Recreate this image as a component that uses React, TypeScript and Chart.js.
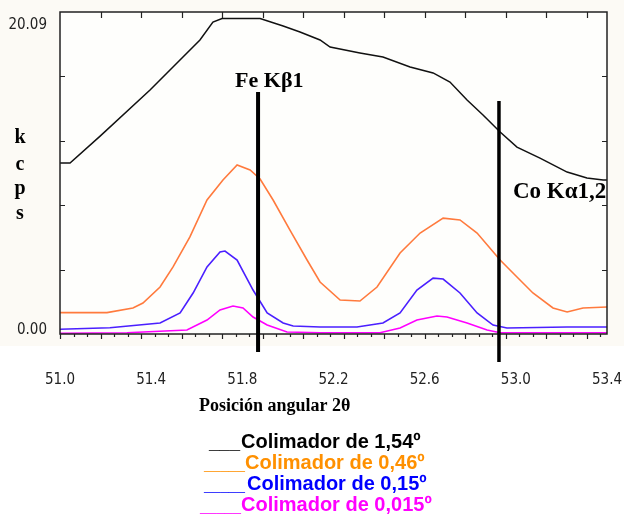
import { useEffect, useRef } from "react";
import { Chart, registerables } from "chart.js";

Chart.register(...registerables);

// ---------- data ----------
const xTickLabels = [51.0, 51.4, 51.8, 52.2, 52.6, 53.0, 53.4];

const angles154 = [51.0, 51.044, 51.176, 51.395, 51.614, 51.671, 51.711, 51.79, 51.878, 51.979, 52.053, 52.141, 52.185, 52.316, 52.417, 52.536, 52.637, 52.711, 52.786, 52.856, 52.931, 53.005, 53.106, 53.225, 53.312, 53.383, 53.4];
const kcps154 = [10.89, 10.89, 12.6, 15.53, 18.72, 19.86, 20.09, 20.09, 20.09, 19.61, 19.23, 18.72, 18.27, 17.89, 17.63, 17.0, 16.62, 16.04, 14.9, 13.94, 12.86, 11.9, 11.2, 10.31, 9.93, 9.8, 9.8];

const angles046 = [51.0, 51.206, 51.32, 51.364, 51.439, 51.496, 51.57, 51.645, 51.715, 51.777, 51.834, 51.878, 51.935, 52.009, 52.084, 52.141, 52.229, 52.316, 52.391, 52.492, 52.58, 52.681, 52.755, 52.83, 52.931, 53.005, 53.075, 53.163, 53.225, 53.295, 53.4];
const kcps046 = [1.36, 1.36, 1.66, 1.97, 2.99, 4.27, 6.18, 8.53, 9.8, 10.76, 10.44, 9.87, 8.53, 6.62, 4.71, 3.31, 2.16, 2.1, 2.99, 5.16, 6.43, 7.38, 7.26, 6.43, 4.71, 3.63, 2.61, 1.66, 1.4, 1.66, 1.72];

const angles015 = [51.0, 51.219, 51.439, 51.527, 51.584, 51.645, 51.702, 51.724, 51.777, 51.847, 51.909, 51.979, 52.023, 52.141, 52.303, 52.417, 52.492, 52.566, 52.637, 52.681, 52.755, 52.83, 52.9, 52.961, 53.225, 53.4];
const kcps015 = [0.3, 0.4, 0.7, 1.34, 2.61, 4.27, 5.22, 5.28, 4.71, 2.8, 1.34, 0.7, 0.51, 0.45, 0.45, 0.7, 1.34, 2.8, 3.56, 3.5, 2.61, 1.34, 0.57, 0.38, 0.45, 0.45];

const angles0015 = [51.0, 51.294, 51.557, 51.645, 51.702, 51.759, 51.803, 51.847, 51.909, 51.996, 52.141, 52.404, 52.492, 52.566, 52.654, 52.698, 52.786, 52.874, 52.931, 53.4];
const kcps0015 = [0.05, 0.08, 0.25, 0.89, 1.53, 1.78, 1.66, 1.08, 0.57, 0.13, 0.08, 0.08, 0.38, 0.89, 1.15, 1.08, 0.7, 0.25, 0.08, 0.08];

const seriesLabels = ["Colimador de 1,54º", "Colimador de 0,46º", "Colimador de 0,15º", "Colimador de 0,015º"];
const legendDashes = ["___", "_____", "_____", "_____"];

const peakLabels = ["Fe Kβ1", "Co Kα1,2"];
const peakAngles = [51.869, 52.926];

const yLabelValues = [0, 20.09];
const yTitleLetters = ["k", "c", "p", "s"];
const xTitle = "Posición angular 2θ";

// ---------- styles ----------
const lineColors = ["#111111", "#FF7A3D", "#4A1FFF", "#FF00FF"];
const legendTextColors = ["#000000", "#FF9000", "#0000FF", "#FF00FF"];
const narrowFont = "'Liberation Sans Narrow', 'DejaVu Sans Condensed', 'Arial Narrow', sans-serif";
const serifBold = "'Liberation Serif', 'Times New Roman', serif";

const pts = (xs: number[], ys: number[]) => xs.map((x, i) => ({ x, y: ys[i] }));

const decorPlugin = {
  id: "decor",
  beforeDraw(chart: any) {
    const { ctx, chartArea: a } = chart;
    ctx.save();
    ctx.fillStyle = "#ffffff";
    ctx.fillRect(0, 0, chart.width, chart.height);
    ctx.fillStyle = "#FCFAF5";
    ctx.fillRect(0, 0, chart.width, a.bottom + 12);
    ctx.fillStyle = "#FEFEFC";
    ctx.fillRect(a.left, a.top, a.right - a.left, a.bottom - a.top);
    ctx.restore();
  },
  afterDatasetsDraw(chart: any) {
    const { ctx, chartArea: a } = chart;
    const xs = chart.scales.x;
    const ys = chart.scales.y;
    ctx.save();

    // frame
    ctx.strokeStyle = "#222";
    ctx.lineWidth = 1.5;
    ctx.strokeRect(a.left, a.top, a.right - a.left, a.bottom - a.top);

    // y ticks (inside, both sides)
    ctx.lineWidth = 1.2;
    const yStep = (ys.max - ys.min) / 5;
    for (let k = 1; k < 5; k++) {
      const py = Math.round(ys.getPixelForValue(ys.min + k * yStep)) + 0.5;
      ctx.beginPath();
      ctx.moveTo(a.left, py);
      ctx.lineTo(a.left + 5, py);
      ctx.moveTo(a.right, py);
      ctx.lineTo(a.right - 5, py);
      ctx.stroke();
    }
    // x ticks: top inside, bottom outside with minors
    const major = 0.1777;
    const minor = major / 3;
    for (let k = 1; k * major < xs.max - xs.min - 0.02; k++) {
      const px = Math.round(xs.getPixelForValue(xs.min + k * major)) + 0.5;
      ctx.beginPath();
      ctx.moveTo(px, a.top);
      ctx.lineTo(px, a.top + 6);
      ctx.stroke();
    }
    for (let k = 0; k * minor <= xs.max - xs.min + 0.001; k++) {
      const px = Math.round(xs.getPixelForValue(xs.min + k * minor)) + 0.5;
      const len = k % 3 === 0 ? 5 : 3;
      ctx.beginPath();
      ctx.moveTo(px, a.bottom);
      ctx.lineTo(px, a.bottom + len);
      ctx.stroke();
    }

    // y labels
    ctx.fillStyle = "#222";
    ctx.font = `15px ${narrowFont}`;
    ctx.textAlign = "right";
    ctx.textBaseline = "middle";
    ctx.fillText(yLabelValues[0].toFixed(2), a.left - 13, ys.getPixelForValue(yLabelValues[0]) - 4);
    ctx.fillText(yLabelValues[1].toFixed(2), a.left - 13, ys.getPixelForValue(yLabelValues[1]) + 7);

    // peak marker lines
    ctx.strokeStyle = "#000";
    const peakTops = [15.41, 14.83];
    const peakBottoms = [-1.15, -1.78];
    peakAngles.forEach((ang, i) => {
      const px = xs.getPixelForValue(ang);
      ctx.lineWidth = i === 0 ? 4 : 3.5;
      ctx.beginPath();
      ctx.moveTo(px, ys.getPixelForValue(peakTops[i]));
      ctx.lineTo(px, ys.getPixelForValue(peakBottoms[i]));
      ctx.stroke();
    });
    ctx.fillStyle = "#000";
    ctx.textAlign = "left";
    ctx.textBaseline = "alphabetic";
    ctx.font = `bold 22px ${serifBold}`;
    ctx.fillText(peakLabels[0], xs.getPixelForValue(peakAngles[0]) - 23, 87);
    ctx.font = `bold 23px ${serifBold}`;
    ctx.fillText(peakLabels[1], xs.getPixelForValue(peakAngles[1]) + 14, 198);

    // y title (stacked letters)
    ctx.font = `bold 20px ${serifBold}`;
    ctx.textAlign = "center";
    const letterY = [143, 170, 194, 219];
    yTitleLetters.forEach((l, i) => ctx.fillText(l, 20, letterY[i]));

    // x title
    ctx.font = `bold 18px ${serifBold}`;
    ctx.textAlign = "left";
    ctx.fillText(xTitle, 199, 411, 155);

    // legend
    const dashX = [209, 204, 204, 200];
    const dashW = [31, 41, 41, 41];
    const textX = [241, 245, 247, 241];
    const baseY = [448, 469, 490, 511];
    ctx.font = "bold 20px 'Liberation Sans', Arial, sans-serif";
    seriesLabels.forEach((lab, i) => {
      ctx.fillStyle = legendTextColors[i];
      ctx.fillText(legendDashes[i], dashX[i], baseY[i], dashW[i]);
      ctx.fillText(lab, textX[i], baseY[i]);
    });

    ctx.restore();
  },
};

export default function App() {
  const ref = useRef<HTMLCanvasElement>(null);
  useEffect(() => {
    if (!ref.current) return;
    const chart = new Chart(ref.current, {
      type: "line",
      data: {
        datasets: [
          { label: seriesLabels[0], data: pts(angles154, kcps154), borderColor: lineColors[0], borderWidth: 1.5 },
          { label: seriesLabels[1], data: pts(angles046, kcps046), borderColor: lineColors[1], borderWidth: 1.6 },
          { label: seriesLabels[2], data: pts(angles015, kcps015), borderColor: lineColors[2], borderWidth: 1.6 },
          { label: seriesLabels[3], data: pts(angles0015, kcps0015), borderColor: lineColors[3], borderWidth: 1.6 },
        ].map((d) => ({ ...d, pointRadius: 0, tension: 0, fill: false })),
      },
      options: {
        animation: false,
        responsive: false,
        events: [],
        layout: { padding: { top: 12, right: 17, left: 0, bottom: 0 } },
        plugins: { legend: { display: false }, tooltip: { enabled: false }, title: { display: false } },
        scales: {
          x: {
            type: "linear",
            min: 51.0,
            max: 53.4,
            grid: { display: false, drawTicks: false },
            border: { display: false },
            afterBuildTicks: (s: any) => {
              s.ticks = xTickLabels.map((v) => ({ value: v }));
            },
            afterFit: (s: any) => {
              s.height = 182;
              s.paddingLeft = 0;
              s.paddingRight = 0;
            },
            ticks: {
              autoSkip: false,
              maxRotation: 0,
              padding: 37,
              color: "#222",
              font: { family: narrowFont, size: 15 },
              callback: (v: any) => Number(v).toFixed(1),
            },
          },
          y: {
            type: "linear",
            min: 0,
            max: 20.5,
            grid: { display: false, drawTicks: false },
            border: { display: false },
            ticks: { display: false },
            afterFit: (s: any) => {
              s.width = 60;
              s.paddingTop = 0;
              s.paddingBottom = 0;
            },
          },
        },
      },
      plugins: [decorPlugin],
    });
    return () => chart.destroy();
  }, []);
  return (
    <div style={{ position: "absolute", left: 0, top: 0, width: 624, height: 516 }}>
      <canvas ref={ref} width={624} height={516} style={{ width: 624, height: 516, display: "block" }} />
    </div>
  );
}
